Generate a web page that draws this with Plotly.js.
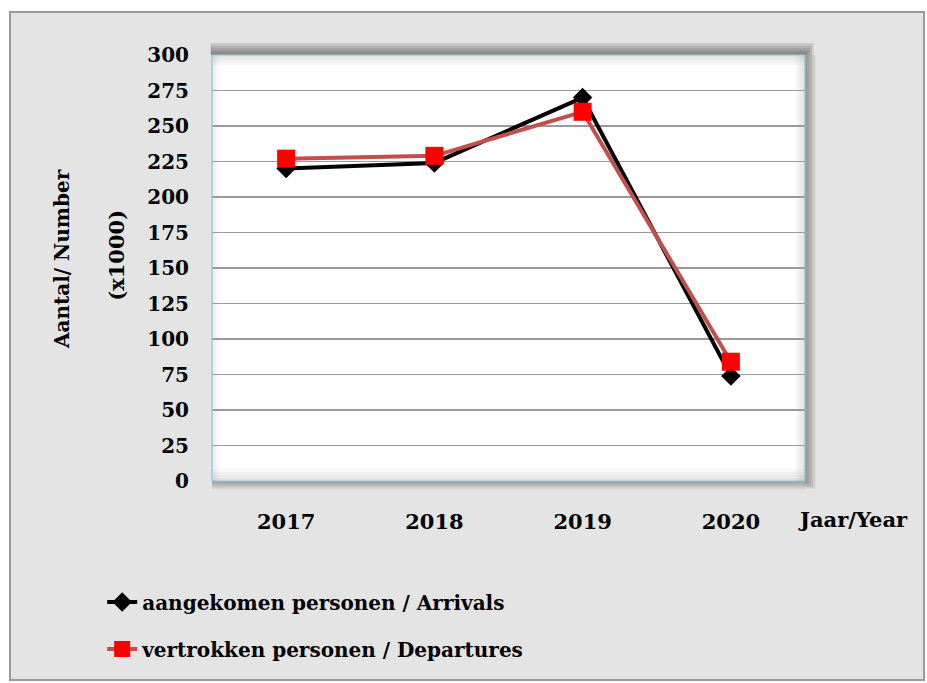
<!DOCTYPE html>
<html><head><meta charset="utf-8">
<script src="https://cdn.plot.ly/plotly-3.0.1.min.js"></script>
<style>
html,body{margin:0;padding:0;background:#fff;}
#frame{position:absolute;left:9px;top:11px;width:912px;height:666px;border:2px solid #9a9a9a;background:#e4e4e4;box-shadow:inset 2px 2px 3px #c8c8c8;}
#chart{width:912px;height:666px;}
</style></head>
<body><div id="frame"><div id="chart"></div></div>
<script>
const years = ['2017','2018','2019','2020'];
const arrivals = [220, 224, 270, 74];
const departures = [227, 229, 260, 84];
const yTicks = [0,25,50,75,100,125,150,175,200,225,250,275,300];
const nameArr = 'aangekomen personen / Arrivals';
const nameDep = 'vertrokken personen / Departures';

const F = 'DejaVu Serif';
const traces = [
  {x: years, y: arrivals, name: nameArr, type:'scatter', mode:'lines+markers',
   line:{color:'#000000', width:4}, marker:{symbol:'diamond', size:15, color:'#000000'}, legendgroup:'a'},
  {x: years, y: departures, name: nameDep, type:'scatter', mode:'lines+markers',
   line:{color:'#c0504d', width:4}, marker:{symbol:'square', size:18, color:'#ff0000'}, legendgroup:'b'}
];

const shapes = [];
const sh = (x0,y0,x1,y1,op)=>shapes.push({type:'rect',xref:'paper',yref:'paper',x0,y0,x1,y1,layer:'below',line:{width:0},fillcolor:'rgba(80,80,80,'+op+')'});
for(let i=1;i<=5;i++){
  const d=i*0.004;
  sh(-0.002, 1, 1+d*0.72, 1+d*1.4, 0.17);
}
for(let i=1;i<=5;i++){
  const d=i*0.0035;
  sh(1, -d*1.0, 1+d, 1, 0.13);
  sh(0, -d*1.1, 1, 0, 0.11);
}
const ib = (x0,y0,x1,y1,op)=>shapes.push({type:'rect',xref:'paper',yref:'paper',x0,y0,x1,y1,layer:'below',line:{width:0},fillcolor:'rgba(120,120,120,'+op+')'});
for(let i=1;i<=4;i++){
  ib(0, 1-i*0.006, 1, 1, 0.05);
  ib(1-i*0.004, 0, 1, 1, 0.05);
  ib(0, 0, 1, i*0.007, 0.05);
  ib(0, 0, i*0.003, 1, 0.04);
}
shapes.push({type:'rect',xref:'paper',yref:'paper',x0:0,y0:0,x1:1,y1:1,layer:'above',line:{color:'#8fc6d6',width:1.2},fillcolor:'rgba(0,0,0,0)'});

const layout = {
  width:912, height:666,
  margin:{l:201, r:118, t:42, b:198, autoexpand:false},
  paper_bgcolor:'#e4e4e4', plot_bgcolor:'#ffffff',
  showlegend:true,
  xaxis:{type:'category', range:[-0.5,3.5], automargin:false, showgrid:false, zeroline:false, showline:false, ticks:'',
    ticklabelstandoff:26, tickfont:{family:F, size:21, color:'#000', weight:'bold'}},
  yaxis:{range:[0,300], tickvals:yTicks, automargin:false, showgrid:true, gridcolor:'#9a9a9a', gridwidth:1.5, zeroline:false, showline:false, ticks:'',
    ticklabelstandoff:22, tickfont:{family:F, size:20, color:'#000', weight:'bold'}},
  legend:{xref:'container', yref:'container', x:0.1, y:0.145, xanchor:'left', yanchor:'top',
    bgcolor:'rgba(0,0,0,0)', tracegroupgap:18, font:{family:F, size:20, color:'#000', weight:'bold'}},
  shapes: shapes,
  annotations:[
    {text:'<b>Aantal/ Number</b>', xref:'paper', yref:'paper', x:-0.252, y:0.52, textangle:-90, showarrow:false, font:{family:F, size:20, color:'#000'}, xanchor:'center', yanchor:'middle'},
    {text:'<b>(x1000)</b>', xref:'paper', yref:'paper', x:-0.161, y:0.53, textangle:-90, showarrow:false, font:{family:F, size:21, color:'#000'}, xanchor:'center', yanchor:'middle'},
    {text:'<b>Jaar/Year</b>', xref:'paper', yref:'paper', x:0.985, y:-0.09, showarrow:false, font:{family:F, size:21, color:'#000'}, xanchor:'left', yanchor:'middle'}
  ]
};
Plotly.newPlot('chart', traces, layout, {displayModeBar:false, staticPlot:true});
</script></body></html>
